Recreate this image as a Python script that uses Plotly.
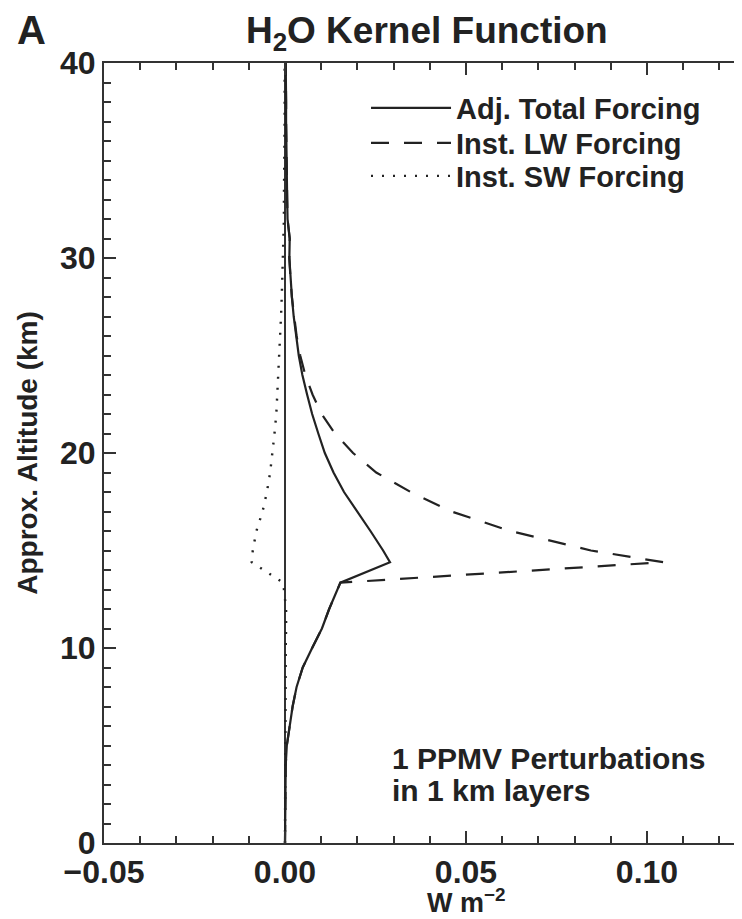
import plotly.graph_objects as go

# ---- data ----
altitude_km = [0, 1, 2, 3, 4, 5, 6, 7, 8, 9, 10, 11, 12, 13.35, 14.4,
               15, 16, 17, 18, 19, 20, 21, 22, 23, 24, 25, 26, 27, 28, 29,
               30, 31, 32, 33, 34, 35, 36, 37, 38, 39, 40]

adj_total = [0.0, 0.0, 0.0001, 0.0001, 0.0002, 0.0005, 0.0012, 0.0021, 0.0032, 0.0049,
             0.0075, 0.0102, 0.0122, 0.0153, 0.0290,
             0.0271, 0.0236, 0.0199, 0.0163, 0.0134, 0.0110, 0.0092, 0.0075, 0.0061, 0.0048,
             0.0038, 0.0030, 0.0024, 0.0019, 0.0015,
             0.0012, 0.0013, 0.0007, 0.0006, 0.0005, 0.0004, 0.0004, 0.0003, 0.0003, 0.0002, 0.0002]

inst_lw = [0.0, 0.0, 0.0001, 0.0001, 0.0002, 0.0005, 0.0012, 0.0021, 0.0032, 0.0049,
           0.0075, 0.0102, 0.0122, 0.0153, 0.1045,
           0.0845, 0.0622, 0.0460, 0.0347, 0.0252, 0.0188, 0.0138, 0.0101, 0.0076, 0.0056,
           0.0042, 0.0032, 0.0025, 0.0019, 0.0015,
           0.0012, 0.0013, 0.0007, 0.0006, 0.0005, 0.0004, 0.0004, 0.0003, 0.0003, 0.0002, 0.0002]

inst_sw = [0.0, 0.0, 0.0, 0.0, 0.0, 0.0, 0.0001, 0.0001, 0.0001, 0.0002,
           0.0002, 0.0003, 0.0003, -0.0005, -0.0092,
           -0.0089, -0.0079, -0.0062, -0.0050, -0.0041, -0.0034, -0.0029, -0.0024, -0.0021, -0.0018,
           -0.0015, -0.0013, -0.0011, -0.0009, -0.0007,
           -0.0005, -0.0004, -0.0003, -0.0003, -0.0002, -0.0002, -0.0002, -0.0001, -0.0001, -0.0001, -0.0001]

series_names = ["Adj. Total Forcing", "Inst. LW Forcing", "Inst. SW Forcing"]

INK = "#222222"
FONT = "Liberation Sans, Arial, Helvetica, sans-serif"

fig = go.Figure()
fig.add_trace(go.Scatter(x=adj_total, y=altitude_km, mode="lines", name=series_names[0],
                         legend="legend",
                         line=dict(color=INK, width=2.2)))
fig.add_trace(go.Scatter(x=inst_lw, y=altitude_km, mode="lines", name=series_names[1],
                         legend="legend2",
                         line=dict(color=INK, width=2.2, dash="18px,15px")))
fig.add_trace(go.Scatter(x=inst_sw, y=altitude_km, mode="lines", name=series_names[2],
                         legend="legend3",
                         line=dict(color=INK, width=2.4, dash="2px,9px"), yaxis="y2"))

tickfont = dict(family=FONT, size=32, color=INK, weight="bold")
legfont = dict(family=FONT, size=29, color=INK, weight="bold")


def leg(yc):
    return dict(x=0.4107, y=yc, xanchor="left", yanchor="middle",
                bgcolor="rgba(0,0,0,0)", itemwidth=80, font=legfont, itemclick=False)


fig.update_layout(
    width=734, height=911,
    margin=dict(l=96, r=0, t=55, b=76),
    paper_bgcolor="white", plot_bgcolor="white",
    font=dict(family=FONT, color=INK),
    showlegend=True,
    title=dict(text="H<sub>2</sub>O Kernel Function", x=0.506, xref="paper",
               y=1 - 22 / 911, yref="container", xanchor="center", yanchor="middle",
               font=dict(family=FONT, size=37, color=INK, weight="bold")),
    legend=leg((843 - 108) / 780),
    legend2=leg((843 - 143) / 780),
    legend3=leg((843 - 176) / 780),
    xaxis=dict(range=[-0.05, 0.12624], tick0=0, dtick=0.05, tickformat=".2f",
               ticks="inside", ticklen=12, tickwidth=2, tickcolor="#333",
               showline=True, linewidth=2, linecolor="#333", mirror="ticks",
               showgrid=False, zeroline=True, zerolinecolor="#333", zerolinewidth=2,
               tickfont=tickfont,
               minor=dict(dtick=0.01, ticks="inside", ticklen=7, tickwidth=2, tickcolor="#333",
                          showgrid=False)),
    yaxis=dict(range=[0, 40], tick0=0, dtick=10,
               ticks="inside", ticklen=12, tickwidth=2, tickcolor="#333",
               showline=True, linewidth=2, linecolor="#333", mirror=False,
               showgrid=False, zeroline=False, tickfont=tickfont,
               title=dict(text="Approx. Altitude (km)", standoff=14,
                          font=dict(family=FONT, size=28, color=INK, weight="bold")),
               minor=dict(dtick=1, ticks="inside", ticklen=7, tickwidth=2, tickcolor="#333",
                          showgrid=False)),
    yaxis2=dict(range=[0, 40], overlaying="y", side="right", tick0=0, dtick=10,
                ticks="inside", ticklen=5, tickwidth=2, tickcolor="#333",
                showticklabels=False, showline=False, showgrid=False, zeroline=False),
)

fig.add_annotation(text="W m<sup>−2</sup>", x=0.05, xref="x", y=(843 - 901) / 780, yref="paper",
                   xanchor="center", yanchor="middle", showarrow=False,
                   font=dict(family=FONT, size=27, color=INK, weight="bold"))
fig.add_annotation(text="A", x=-0.113, xref="paper", y=(843 - 30) / 780, yref="paper",
                   xanchor="center", yanchor="middle", showarrow=False,
                   font=dict(family=FONT, size=40, color=INK, weight="bold"))
fig.add_annotation(text="1 PPMV Perturbations", x=(390 - 104) / 638, xref="paper",
                   y=(843 - 758) / 780, yref="paper", xanchor="left", yanchor="middle",
                   showarrow=False, font=dict(family=FONT, size=30, color=INK, weight="bold"))
fig.add_annotation(text="in 1 km layers", x=(390 - 104) / 638, xref="paper",
                   y=(843 - 790) / 780, yref="paper", xanchor="left", yanchor="middle",
                   showarrow=False, font=dict(family=FONT, size=30, color=INK, weight="bold"))

fig.write_html("out.html")
